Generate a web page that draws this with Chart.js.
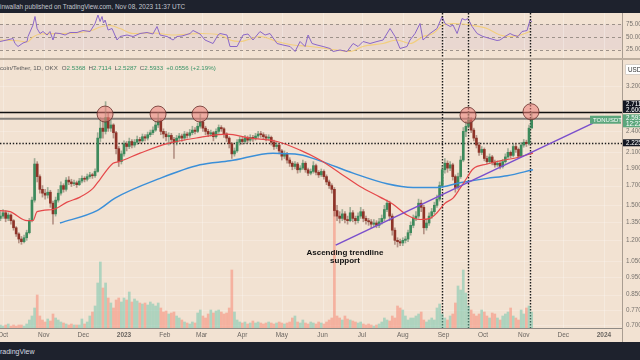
<!DOCTYPE html>
<html><head><meta charset="utf-8">
<script src="https://cdn.jsdelivr.net/npm/chart.js@4.4.1/dist/chart.umd.min.js"></script>
<style>
html,body{margin:0;padding:0;width:640px;height:360px;overflow:hidden;background:#f2e2d2;font-family:"Liberation Sans",Arial,sans-serif}
#top{position:absolute;left:0;top:0;width:640px;height:13px;background:#1e222d;color:#c3c6ce;font-size:6.4px;line-height:13px;white-space:nowrap}
#bot{position:absolute;left:0;top:342px;width:640px;height:18px;background:#1e222d;color:#d8dbe2;font-size:7px;line-height:19px;white-space:nowrap}
#c1{position:absolute;left:0;top:13px}
#c2{position:absolute;left:0;top:60px}
</style></head>
<body>
<div id="top">inwallah published on TradingView.com, Nov 08, 2023 11:37 UTC</div>
<canvas id="c1" width="660" height="47"></canvas>
<canvas id="c2" width="660" height="282"></canvas>
<div id="bot">radingView</div>
<script>
// ---------- DATA ----------
const START_DAY = -2;          // days since 1 Oct 2022 of first candle
const STEP = 2;                // days per candle
const FIRST_OPEN = 1.38;
const close = [1.40,1.43,1.38,1.41,1.36,1.30,1.25,1.21,1.19,1.22,
1.26,1.36,1.55,1.95,1.80,1.66,1.62,1.60,1.63,1.52,
1.42,1.55,1.62,1.70,1.66,1.76,1.74,1.72,1.73,1.71,
1.75,1.78,1.77,1.80,1.82,1.81,1.86,2.30,2.45,2.40,
2.62,2.45,2.50,2.38,2.15,1.98,2.08,2.22,2.18,2.25,
2.20,2.24,2.28,2.26,2.32,2.30,2.35,2.38,2.42,2.50,
2.57,2.40,2.36,2.32,2.34,2.28,2.24,2.30,2.33,2.30,
2.36,2.34,2.38,2.42,2.40,2.48,2.55,2.45,2.40,2.36,
2.38,2.32,2.40,2.46,2.44,2.36,2.30,2.22,2.08,2.12,
2.24,2.28,2.25,2.30,2.27,2.31,2.29,2.33,2.36,2.35,
2.32,2.30,2.31,2.24,2.18,2.20,2.12,2.05,2.08,2.00,
1.96,1.92,1.95,1.88,1.90,1.96,1.88,1.84,1.86,1.93,
1.85,1.82,1.86,1.80,1.74,1.70,1.66,1.45,1.40,1.38,
1.42,1.37,1.36,1.43,1.38,1.36,1.40,1.44,1.38,1.36,
1.35,1.33,1.34,1.32,1.35,1.38,1.46,1.52,1.40,1.28,
1.20,1.19,1.18,1.20,1.21,1.26,1.32,1.38,1.40,1.52,
1.48,1.30,1.34,1.40,1.44,1.50,1.56,1.70,1.88,1.96,
1.90,1.94,1.80,1.68,1.80,2.00,2.40,2.48,2.58,2.42,
2.30,2.20,2.10,2.14,2.02,1.98,2.04,1.97,1.94,1.96,
1.92,1.98,2.04,2.10,2.06,2.18,2.14,2.05,2.20,2.24,
2.22,2.45,2.5933];
const high = [1.44,1.46,1.45,1.43,1.42,1.37,1.31,1.26,1.23,1.24,
1.28,1.38,1.58,2.02,1.98,1.82,1.70,1.66,1.68,1.65,
1.54,1.58,1.66,1.74,1.72,1.79,1.80,1.77,1.76,1.75,
1.78,1.81,1.80,1.83,1.85,1.84,1.89,2.38,2.62,2.58,
2.90,2.70,2.58,2.52,2.40,2.18,2.12,2.26,2.25,2.30,
2.28,2.28,2.33,2.31,2.36,2.35,2.39,2.42,2.47,2.56,
2.70,2.60,2.44,2.40,2.38,2.37,2.31,2.34,2.37,2.36,
2.40,2.39,2.43,2.48,2.46,2.53,2.68,2.58,2.48,2.43,
2.42,2.40,2.44,2.50,2.49,2.46,2.38,2.32,2.24,2.16,
2.28,2.32,2.31,2.34,2.33,2.35,2.34,2.37,2.40,2.40,
2.38,2.35,2.35,2.33,2.27,2.24,2.22,2.14,2.12,2.10,
2.03,1.98,1.98,1.97,1.93,2.00,1.98,1.90,1.89,1.98,
1.95,1.87,1.89,1.88,1.82,1.76,1.72,1.68,1.50,1.44,
1.46,1.44,1.40,1.48,1.45,1.40,1.43,1.48,1.46,1.40,
1.38,1.37,1.37,1.36,1.38,1.41,1.50,1.55,1.54,1.42,
1.30,1.22,1.21,1.22,1.23,1.28,1.35,1.41,1.44,1.56,
1.55,1.50,1.37,1.43,1.47,1.53,1.60,1.74,1.93,2.02,
1.99,1.98,1.96,1.82,1.84,2.05,2.46,2.56,2.72,2.62,
2.45,2.34,2.24,2.18,2.16,2.05,2.08,2.06,2.00,1.99,
1.98,2.01,2.08,2.15,2.12,2.22,2.22,2.16,2.24,2.28,
2.27,2.50,2.7114];
const low = [1.36,1.38,1.35,1.36,1.33,1.28,1.23,1.18,1.17,1.18,
1.20,1.25,1.35,1.53,1.74,1.62,1.58,1.56,1.57,1.48,
1.33,1.40,1.53,1.60,1.63,1.64,1.71,1.69,1.70,1.68,
1.70,1.73,1.74,1.75,1.78,1.78,1.79,1.85,2.25,2.30,
2.36,2.40,2.40,2.30,2.08,1.92,1.95,2.05,2.12,2.15,
2.16,2.17,2.21,2.22,2.24,2.26,2.27,2.32,2.35,2.40,
2.46,2.35,2.30,2.26,2.20,2.22,2.02,2.20,2.26,2.25,
2.27,2.30,2.31,2.35,2.36,2.38,2.45,2.40,2.35,2.32,
2.33,2.26,2.30,2.37,2.40,2.31,2.25,2.16,2.02,2.05,
2.10,2.20,2.21,2.22,2.23,2.25,2.25,2.27,2.30,2.31,
2.28,2.26,2.27,2.20,2.14,2.15,2.08,2.00,2.02,1.96,
1.92,1.88,1.89,1.84,1.85,1.88,1.85,1.81,1.82,1.84,
1.82,1.79,1.80,1.77,1.71,1.67,1.62,1.40,1.36,1.34,
1.36,1.34,1.33,1.35,1.35,1.33,1.34,1.38,1.35,1.33,
1.32,1.30,1.31,1.30,1.30,1.33,1.36,1.44,1.36,1.24,
1.17,1.15,1.16,1.16,1.18,1.19,1.24,1.30,1.36,1.38,
1.44,1.25,1.28,1.32,1.38,1.42,1.48,1.54,1.68,1.84,
1.85,1.87,1.76,1.63,1.66,1.78,1.98,2.32,2.45,2.38,
2.26,2.16,2.06,2.07,1.99,1.95,1.96,1.94,1.91,1.92,
1.89,1.90,1.96,2.02,2.03,2.04,2.10,2.02,2.04,2.17,
2.18,2.20,2.5287];
const volume = [3,2,3,4,2,3,2,3,3,2,
4,8,12,20,33,12,8,6,9,7,
14,10,8,6,5,4,3,4,3,3,
3,9,4,6,12,16,22,45,66,40,
45,30,25,20,28,30,26,30,28,36,
26,29,27,25,24,25,23,26,24,22,
25,20,16,17,14,15,16,12,10,8,
6,5,4,6,5,15,18,12,10,14,
18,15,17,18,16,14,15,20,58,16,
8,6,5,6,4,5,7,5,6,5,
4,5,6,5,4,5,6,5,4,5,
6,10,12,6,5,8,5,4,6,5,
4,6,5,4,6,8,10,123,12,10,
8,12,9,8,7,6,5,6,4,3,
4,3,2,3,4,6,10,8,7,12,
10,22,20,18,12,8,10,10,12,14,
16,8,6,8,10,8,20,24,14,10,
8,12,14,25,42,38,58,35,22,18,
14,12,14,18,16,12,10,15,14,10,
8,12,14,16,20,12,10,8,18,14,
20,22,16];

const ma50Day = [-2.3,5.3,18.3,22.8,25.9,38,48.7,58.6,68.4,73.8,83.7,88.3,104.2,124.7,149.8,170.3,187.8,208.4,225.9,241.1,256.3,271.5,286.7,296.6,307.2,317.1,324.7,330,336.1,342.2,347.5,352.9,357.4,368.1,377.9,387.8,403];
const ma50Val = [1.45,1.44,1.36,1.36,1.44,1.46,1.53,1.58,1.67,1.77,1.96,1.98,2.09,2.22,2.31,2.36,2.30,2.25,2.13,2.00,1.84,1.69,1.58,1.51,1.41,1.37,1.38,1.43,1.52,1.57,1.67,1.79,1.89,1.95,1.99,2.02,2.09];
const ma200Day = [43.3,71.5,85.2,119.4,149.8,172.6,205.3,225.9,241.1,266.2,292,311.8,330,347.5,368,383.3,403];
const ma200Val = [1.34,1.45,1.57,1.78,1.94,1.99,2.09,2.07,1.99,1.84,1.72,1.68,1.68,1.73,1.78,1.81,1.88];

const rsiDay = [-2.3,3,7.6,9.1,11.4,15.2,18.3,19,22.8,24.3,25.9,28.1,30.4,33.5,35.7,38,39.5,43.3,47.2,51,56.3,60.8,66.2,70,72.2,73.8,75.3,76.4,77.6,79.9,82.9,86.7,89,94.3,98.9,104.2,109.5,114,117.1,119.4,124.7,129.3,132.3,136.1,142.2,144.5,149.8,153.6,159.7,163.5,165,170.3,172.6,178,182.5,186.3,190.1,195.4,199.3,203,208.4,212.9,218.3,222.1,225.9,229.7,232,235,238.8,243.4,248.7,251,256.3,261.6,266.2,270,273.8,279.1,284.4,289,294.3,298.1,301.9,307.2,309.5,313.3,317.1,319.4,324.7,330,333.9,336.1,340,342.2,345.3,349.1,351.4,353.6,356.7,360.5,365,370.3,375.7,377.9,381.7,385.6,387.8,391.6,394.7,398.5,400.8,402.3];
const rsiVal = [41,44,47,37,31,38,41,51,74,91,67,57,61,54,61,44,58,57,54,59,59,63,61,77,94,81,91,78,84,64,67,44,51,54,51,57,59,56,71,54,51,44,51,52,57,63,56,44,37,54,57,54,31,31,54,56,44,61,54,57,37,34,31,21,41,31,54,37,34,31,27,21,24,21,37,31,41,37,41,44,67,51,27,31,44,57,77,44,57,67,91,77,71,74,57,87,84,87,71,57,51,47,43,44,51,57,54,51,61,63,84,80];
const rsiMaDay = [-2.3,12.9,18.3,22.8,28.1,43.3,58.6,68.4,73.8,81.4,89,98.9,114,129.3,149.8,165,172.6,180.2,195.4,208.4,220.5,233.5,254,263.9,273.8,289,299.6,309.5,319.4,327,334.6,342.2,355.1,368.1,377.9,385.6,393.2,400.8];
const rsiMaVal = [44,42,40,50,56,57,59,64,70,73,67,57,58,54,57,54,44,41,51,41,34,31,24,21,31,37,44,37,51,57,74,77,74,67,54,51,54,61];

const trendDay = [253, 448.7];
const trendPrice = [1.164, 2.53];
const circleDay = [77.6, 117.9, 149.8, 353.6, 401.5];
const circlePrice = [2.68, 2.68, 2.68, 2.66, 2.72];
const markerDay = [333.8, 353.6, 400.8];
const LEVEL_HIGH = 2.711, LEVEL_LAST = 2.6, LEVEL_SUPPORT = 2.225, LAST_PRICE = 2.5933;

const monthDay = [0,31,61,92,123,151,182,212,243,273,304,335,365,396,426,457];
const monthLabel = ['Oct','Nov','Dec','2023','Feb','Mar','Apr','May','Jun','Jul','Aug','Sep','Oct','Nov','Dec','2024'];
const priceTicks = [3.2,2.4,2.1,1.9,1.7,1.5,1.35,1.2,1.05,0.95,0.85,0.77,0.70];
const rsiTicks = [25,50,75];

const legendTitle = 'coin/Tether, 1D, OKX';
const legendOHLC = [['O','2.5368'],['H','2.7114'],['L','2.5287'],['C','2.5933']];
const legendChange = '+0.0556 (+2.19%)';
const noteLines = ['Ascending trendline','support'];
const noteDay = 260, notePrice = 1.107;

// ---------- STYLE ----------
const XMIN = -2.3, XMAX = 470.7;
const AXIS_W = 38, XAXIS_H = 14;
const BG = '#f2e2d2';
const FONT = '"Liberation Sans", Arial, sans-serif';
const LABEL = '#77726d';
Chart.defaults.font.family = FONT;

const openP = close.map((c,i)=> i===0 ? FIRST_OPEN : close[i-1]);
const dayOf = close.map((c,i)=> START_DAY + STEP*i);
const isUp = close.map((c,i)=> c >= openP[i]);

function vDotted(ctx, x, top, bottom){
  ctx.save(); ctx.strokeStyle='#1b1b1b'; ctx.lineWidth=1.4; ctx.setLineDash([1.4,1.6]);
  ctx.beginPath(); ctx.moveTo(Math.round(x)+0.5, top); ctx.lineTo(Math.round(x)+0.5, bottom); ctx.stroke(); ctx.restore();
}
function monthGrid(c){
  const {ctx, chartArea:a, scales:{x}} = c;
  ctx.save(); ctx.strokeStyle='rgba(255,255,255,0.28)'; ctx.lineWidth=1;
  monthDay.forEach(d=>{ const px=Math.round(x.getPixelForValue(d))+0.5; ctx.beginPath(); ctx.moveTo(px,a.top); ctx.lineTo(px,a.bottom); ctx.stroke(); });
  ctx.restore();
}
function rightBorder(c, bottom){
  const {ctx, chartArea:a} = c;
  ctx.save(); ctx.fillStyle='#a99d91'; ctx.fillRect(Math.round(a.right), 0, 1, bottom); ctx.restore();
}

const rsiDeco = {
  id:'rsiDeco',
  beforeDraw(c){
    const {ctx, chartArea:a, scales:{y}} = c;
    ctx.save(); ctx.fillStyle=BG; ctx.fillRect(0,0,c.width,c.height);
    ctx.fillStyle='rgba(126,87,194,0.08)';
    const t=y.getPixelForValue(75), b=y.getPixelForValue(25);
    ctx.fillRect(a.left,t,a.right-a.left,b-t);
    ctx.restore();
    monthGrid(c);
    ctx.save(); ctx.strokeStyle='#9d928a'; ctx.lineWidth=1; ctx.setLineDash([3,3]);
    rsiTicks.forEach(v=>{ const py=Math.round(y.getPixelForValue(v))+0.5; ctx.beginPath(); ctx.moveTo(a.left,py); ctx.lineTo(a.right,py); ctx.stroke(); });
    ctx.restore();
  },
  afterDatasetsDraw(c){
    const {ctx, chartArea:a, scales:{x,y}} = c;
    markerDay.forEach(d=> vDotted(ctx, x.getPixelForValue(d), 0, a.bottom));
    rightBorder(c, a.bottom);
    ctx.save();
    ctx.font='6.3px '+FONT; ctx.fillStyle=LABEL; ctx.textBaseline='middle'; ctx.textAlign='left';
    rsiTicks.forEach(v=> ctx.fillText(v.toFixed(2), a.right+4, y.getPixelForValue(v)));
    ctx.fillStyle='#bcae9f'; ctx.fillRect(0, a.bottom-2, c.width, 2);
    ctx.restore();
  }
};

function box(ctx, x, cy, w, h, bg, lines, color){
  ctx.fillStyle=bg; ctx.fillRect(x, cy-h/2, w, h);
  ctx.fillStyle=color; ctx.textBaseline='middle'; ctx.textAlign='left';
  const lh = h/lines.length;
  lines.forEach((t,i)=> ctx.fillText(t, x+3, cy-h/2+lh*(i+0.5)+0.3));
}

const mainDeco = {
  id:'mainDeco',
  beforeDraw(c){
    const {ctx, chartArea:a, scales:{y}} = c;
    ctx.save(); ctx.fillStyle=BG; ctx.fillRect(0,0,c.width,c.height); ctx.restore();
    monthGrid(c);
    ctx.save(); ctx.strokeStyle='rgba(255,255,255,0.22)';
    priceTicks.forEach(v=>{ const py=Math.round(y.getPixelForValue(v))+0.5; ctx.beginPath(); ctx.moveTo(a.left,py); ctx.lineTo(a.right,py); ctx.stroke(); });
    ctx.restore();
  },
  beforeDatasetsDraw(c){
    const {ctx, chartArea:a, scales:{x,y}} = c;
    ctx.save();
    let py = y.getPixelForValue(LEVEL_LAST);
    ctx.strokeStyle='#85817c'; ctx.lineWidth=2;
    ctx.beginPath(); ctx.moveTo(a.left,py); ctx.lineTo(a.right-32,py); ctx.stroke();
    py = Math.round(y.getPixelForValue(LEVEL_HIGH))+0.5;
    ctx.strokeStyle='#111'; ctx.lineWidth=1.5;
    ctx.beginPath(); ctx.moveTo(a.left,py); ctx.lineTo(a.right,py); ctx.stroke();
    py = Math.round(y.getPixelForValue(LEVEL_SUPPORT))+0.5;
    ctx.strokeStyle='#1b1b1b'; ctx.lineWidth=1.4; ctx.setLineDash([1.4,1.8]);
    ctx.beginPath(); ctx.moveTo(a.left,py); ctx.lineTo(a.right,py); ctx.stroke();
    ctx.restore();
    markerDay.forEach(d=> vDotted(ctx, x.getPixelForValue(d), 0, a.bottom));
  },
  afterDatasetsDraw(c){
    const {ctx, chartArea:a, scales:{x,y}} = c;
    ctx.save();
    // annotation text
    ctx.font='bold 8px '+FONT; ctx.fillStyle='#111'; ctx.textAlign='center'; ctx.textBaseline='middle';
    const nx=x.getPixelForValue(noteDay), ny=y.getPixelForValue(notePrice);
    noteLines.forEach((t,i)=> ctx.fillText(t, nx, ny+i*8));
    // legend
    ctx.font='6.2px '+FONT; ctx.textAlign='left'; ctx.textBaseline='middle';
    let lx=0; const ly=8;
    const put=(t,col)=>{ ctx.fillStyle=col; ctx.fillText(t,lx,ly); lx+=ctx.measureText(t).width; };
    put(legendTitle,'#5a5a5a'); lx+=4;
    legendOHLC.forEach(([k,v])=>{ put(k,'#5a5a5a'); put(v,'#3a9468'); lx+=3; });
    put(legendChange,'#3a9468');
    // TONUSDT label
    const lp = y.getPixelForValue(LAST_PRICE);
    ctx.font='6px '+FONT;
    box(ctx, a.right-32, lp+0.5, 31, 8, '#5ba67c', ['TONUSDT'], '#ffffff');
    ctx.restore();
  },
  afterDraw(c){
    const {ctx, chartArea:a, scales:{x,y}} = c;
    ctx.save();
    ctx.fillStyle='#8f8a85'; ctx.fillRect(0, Math.round(a.bottom), a.right, 1);
    ctx.textAlign='center'; ctx.textBaseline='middle'; ctx.fillStyle='#6b6661';
    monthDay.forEach((d,i)=>{
      const lab=monthLabel[i];
      ctx.font=(/^20/.test(lab)?'bold ':'')+'6.5px '+FONT;
      ctx.fillText(lab, x.getPixelForValue(d), a.bottom+7.5);
    });
    ctx.restore();
    rightBorder(c, c.height);
    ctx.save();
    ctx.font='6.3px '+FONT; ctx.fillStyle=LABEL; ctx.textAlign='left'; ctx.textBaseline='middle';
    priceTicks.forEach(v=> ctx.fillText(v.toFixed(3), a.right+4, y.getPixelForValue(v)));
    const ax=a.right+1;
    ctx.fillStyle='#ffffff'; ctx.strokeStyle='#d8d0c8'; ctx.lineWidth=1;
    ctx.beginPath(); ctx.rect(ax+2.5,4.5,30,10); ctx.fill(); ctx.stroke();
    ctx.fillStyle='#333'; ctx.fillText('USD', ax+5, 9.8);
    const yh=y.getPixelForValue(LEVEL_HIGH), yl=y.getPixelForValue(LEVEL_LAST), yc=y.getPixelForValue(LAST_PRICE), ys=y.getPixelForValue(LEVEL_SUPPORT);
    box(ctx, ax, yh-8.5, 40, 6.6, '#131722', [LEVEL_HIGH.toFixed(3)], '#ffffff');
    box(ctx, ax, yl-9.2, 40, 6.6, '#131722', [LEVEL_LAST.toFixed(3)], '#ffffff');
    box(ctx, ax, yc+1.6, 40, 13, '#5ba67c', [LAST_PRICE.toFixed(3), '12:22:38'], '#ffffff');
    box(ctx, ax, ys-0.5, 40, 7, '#131722', [LEVEL_SUPPORT.toFixed(3)], '#ffffff');
    ctx.restore();
  }
};

// ---------- RSI CHART ----------
new Chart(document.getElementById('c1'), {
  type:'line',
  data:{datasets:[
    {data: rsiDay.map((d,i)=>({x:d,y:rsiVal[i]})), borderColor:'#8b67c8', borderWidth:1, pointRadius:0, tension:0},
    {data: rsiMaDay.map((d,i)=>({x:d,y:rsiMaVal[i]})), borderColor:'rgba(242,206,120,0.95)', borderWidth:1.2, pointRadius:0, cubicInterpolationMode:'monotone'}
  ]},
  options:{
    responsive:false, animation:false, devicePixelRatio:1,
    layout:{autoPadding:false, padding:{left:0, top:0, right:AXIS_W, bottom:0}},
    plugins:{legend:{display:false}, tooltip:{enabled:false}},
    scales:{
      x:{type:'linear', min:XMIN, max:XMAX, display:false},
      y:{type:'linear', min:4, max:98, display:false}
    }
  },
  plugins:[rsiDeco]
});

// ---------- MAIN CHART ----------
new Chart(document.getElementById('c2'), {
  type:'bar',
  data:{datasets:[
    {type:'line', order:0, data: circleDay.map((d,i)=>({x:d,y:circlePrice[i]})), showLine:false,
     pointRadius:8, pointBackgroundColor:'rgba(236,125,120,0.55)', pointBorderColor:'rgba(110,55,50,0.85)', pointBorderWidth:1},
    {type:'line', order:1, data: trendDay.map((d,i)=>({x:d,y:trendPrice[i]})), borderColor:'#7a4fcc', borderWidth:1.5, pointRadius:0},
    {type:'line', order:2, data: ma50Day.map((d,i)=>({x:d,y:ma50Val[i]})), borderColor:'#e5484a', borderWidth:1.2, pointRadius:0, cubicInterpolationMode:'monotone'},
    {type:'line', order:3, data: ma200Day.map((d,i)=>({x:d,y:ma200Val[i]})), borderColor:'#3b8fd8', borderWidth:1.5, pointRadius:0, cubicInterpolationMode:'monotone'},
    {order:4, grouped:false, barThickness:2, minBarLength:1, yAxisID:'y',
     data: close.map((c,i)=>({x:dayOf[i], y:[openP[i], c]})),
     backgroundColor: isUp.map(u=> u ? '#3d8a5c' : '#8e3328')},
    {order:5, grouped:false, barThickness:1, yAxisID:'y',
     data: close.map((c,i)=>({x:dayOf[i], y:[low[i], high[i]]})),
     backgroundColor: isUp.map(u=> u ? 'rgba(90,130,100,0.55)' : 'rgba(130,80,70,0.55)')},
    {order:6, grouped:false, barThickness:2, yAxisID:'yv',
     data: volume.map((v,i)=>({x:dayOf[i], y:v})),
     backgroundColor: isUp.map(u=> u ? 'rgba(105,195,170,0.5)' : 'rgba(248,128,108,0.5)')}
  ]},
  options:{
    responsive:false, animation:false, devicePixelRatio:1,
    layout:{autoPadding:false, padding:{left:0, top:0, right:AXIS_W, bottom:XAXIS_H}},
    plugins:{legend:{display:false}, tooltip:{enabled:false}},
    scales:{
      x:{type:'linear', min:XMIN, max:XMAX, offset:false, display:false},
      y:{type:'logarithmic', min:0.687, max:3.78, display:false},
      yv:{type:'linear', min:0, max:268, display:false}
    }
  },
  plugins:[mainDeco]
});
</script>
</body></html>
